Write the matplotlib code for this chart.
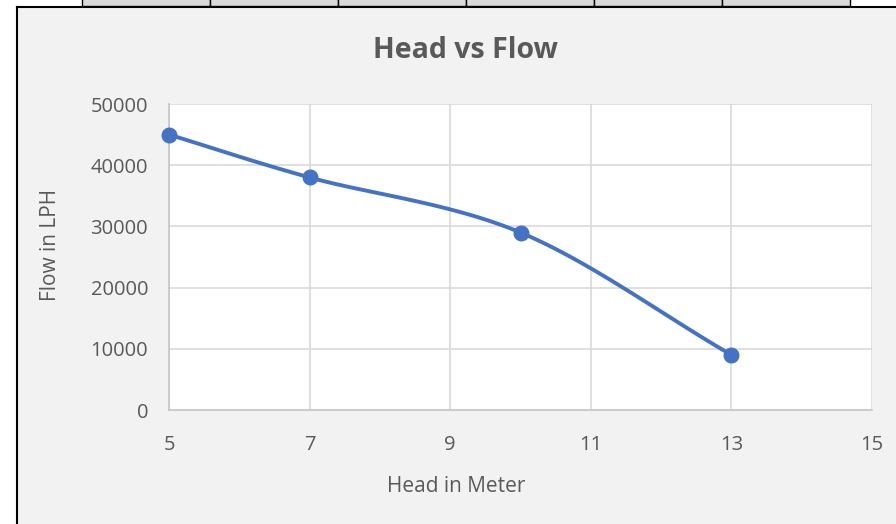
import matplotlib
matplotlib.use("Agg")
import matplotlib.pyplot as plt
import numpy as np
from matplotlib.patches import Rectangle
from matplotlib.lines import Line2D

head = [5, 7, 10, 13]
flow = [45000, 38000, 29000, 9000]
x_ticks = [5, 7, 9, 11, 13, 15]
y_ticks = [0, 10000, 20000, 30000, 40000, 50000]
title = "Head vs Flow"
xlabel = "Head in Meter"
ylabel = "Flow in LPH"

plt.rcParams['font.family'] = ['Open Sans', 'DejaVu Sans']

W, H = 896, 524
fig = plt.figure(figsize=(W / 100, H / 100), dpi=100, facecolor='white')

def fx(px):
    return px / W

def fy(py):
    return 1 - py / H

# chart area background
fig.patches.append(Rectangle((fx(17), 0), 1 - fx(17), fy(8), transform=fig.transFigure,
                             facecolor='#F2F2F2', edgecolor='none', zorder=-10))
fig.add_artist(Line2D([fx(17), fx(17)], [0, fy(7)], transform=fig.transFigure, color='black', lw=1.5, zorder=-5))
fig.add_artist(Line2D([fx(17), 1], [fy(7), fy(7)], transform=fig.transFigure, color='black', lw=1.5, zorder=-5))

# table strip at top
cells = [82, 210, 338, 466, 594, 722, 850]
for a, b in zip(cells[:-1], cells[1:]):
    fig.patches.append(Rectangle((fx(a), fy(6)), fx(b) - fx(a), fy(0) - fy(6) + 0.01,
                                 transform=fig.transFigure, facecolor='#D9D9D9',
                                 edgecolor='black', lw=1.0, zorder=-4))

ax = fig.add_axes([fx(169), fy(410), fx(872) - fx(169), fy(104) - fy(410)])
ax.set_zorder(5)
ax.set_facecolor('white')
ax.set_xlim(5, 15)
ax.set_ylim(0, 50000)
ax.set_xticks(x_ticks)
ax.set_yticks(y_ticks)
ax.grid(True, color='#D9D9D9', lw=1.2)
ax.set_axisbelow(True)
for s in ['top', 'right']:
    ax.spines[s].set_visible(False)
for s in ['left', 'bottom']:
    ax.spines[s].set_color('#C8C8C8')
    ax.spines[s].set_linewidth(1.3)
ax.tick_params(length=0, labelsize=14.5, labelcolor='#595959')
ax.tick_params(axis='x', pad=18)
ax.tick_params(axis='y', pad=15)

# smooth line (Catmull-Rom through the data points), like Excel's smoothed line
px = np.array(head, float)
py = np.array(flow, float)
P = np.column_stack([px, py])
ext = np.vstack([P[0] - (P[1] - P[0]), P, P[-1] + (P[-1] - P[-2])])
sx, sy = [], []
for i in range(1, len(ext) - 2):
    p0, p1, p2, p3 = ext[i - 1], ext[i], ext[i + 1], ext[i + 2]
    t = np.linspace(0, 1, 40)[:, None]
    c = 0.5 * ((2 * p1) + (-p0 + p2) * t + (2 * p0 - 5 * p1 + 4 * p2 - p3) * t ** 2
               + (-p0 + 3 * p1 - 3 * p2 + p3) * t ** 3)
    sx.extend(c[:, 0]); sy.extend(c[:, 1])
ax.plot(sx, sy, color='#4472C4', lw=2.8, solid_capstyle='round', zorder=3, clip_on=False)
ax.plot(head, flow, 'o', color='#4472C4', ms=10.5, zorder=4, clip_on=False)

fig.text(fx(465), fy(50), title, ha='center', va='center', fontsize=20.5, fontweight='bold', color='#595959')
fig.text(fx(456), fy(487), xlabel, ha='center', va='center', fontsize=15, color='#595959')
fig.text(fx(50), fy(245), ylabel, ha='center', va='center', fontsize=15, color='#595959', rotation=90)

fig.savefig('out.png', dpi=100, facecolor='white')
